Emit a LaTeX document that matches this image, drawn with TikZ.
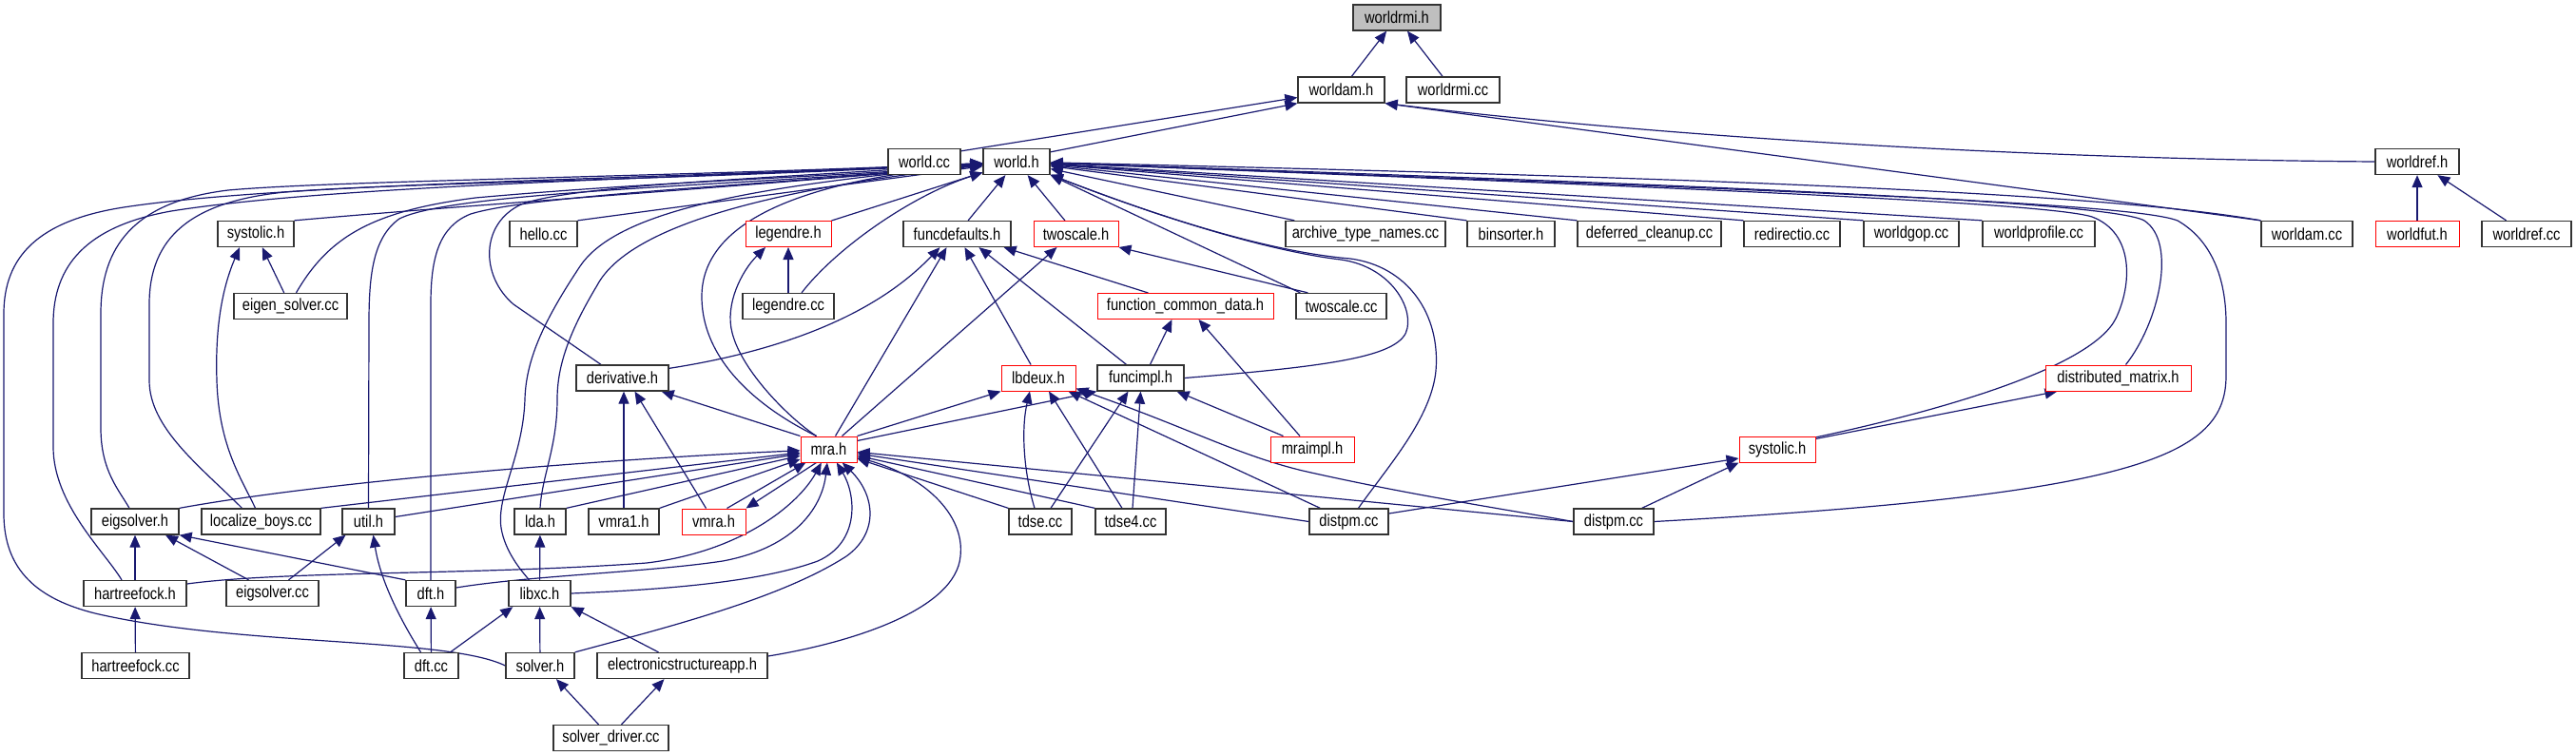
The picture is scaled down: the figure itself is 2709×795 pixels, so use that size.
\documentclass[tikz,border=0pt]{standalone}
\usepackage{fontspec}
\setmainfont{Liberation Sans}[FakeStretch=0.84]
\usetikzlibrary{arrows.meta,backgrounds}
\definecolor{eblue}{HTML}{191970}
\definecolor{gfill}{HTML}{BFBFBF}
\definecolor{bord}{HTML}{333333}
\begin{document}
\begin{tikzpicture}[x=1pt,y=-1pt,
  box/.style={draw=bord, line width=1.3pt, fill=white, minimum height=27pt, inner sep=0pt, font=\fontsize{17.5pt}{19pt}\selectfont},
  rbox/.style={box, draw=red, line width=1pt},
  bw/.style={minimum width=#1pt},
  e/.style={draw=eblue, line width=1.2pt, {Triangle[length=13pt,width=11pt]}-}]
\useasboundingbox (0,0) rectangle (2709,795);
% row 0
\node[box, fill=gfill, bw=92] (worldrmi) at (1469,18.5) {worldrmi.h};
% row 1
\node[box, bw=91] (worldamh) at (1410.5,94.5) {worldam.h};
\node[box, bw=98] (worldrmicc) at (1528,94.5) {worldrmi.cc};
% row 2
\node[box, bw=76] (worldcc) at (972,170) {world.cc};
\node[box, bw=70] (worldh) at (1069,170) {world.h};
\node[box, bw=88] (worldrefh) at (2542,170) {worldref.h};
% row 3
\node[box, bw=80] (systolich) at (269,246) {systolic.h};
\node[box, bw=71] (hellocc) at (571.5,246) {hello.cc};
\node[rbox, bw=90] (legendreh) at (829,246) {legendre.h};
\node[box, bw=113] (funcdefaults) at (1006.5,246) {funcdefaults.h};
\node[rbox, bw=89] (twoscaleh) at (1131.5,246) {twoscale.h};
\node[box, bw=168] (archive) at (1436,246) {archive\_type\_names.cc};
\node[box, bw=92] (binsorter) at (1589,246) {binsorter.h};
\node[box, bw=151] (deferred) at (1734.5,246) {deferred\_cleanup.cc};
\node[box, bw=101] (redirectio) at (1884.5,246) {redirectio.cc};
\node[box, bw=100] (worldgop) at (2010,246) {worldgop.cc};
\node[box, bw=118] (worldprofile) at (2144,246) {worldprofile.cc};
\node[box, bw=96] (worldamcc) at (2426,246) {worldam.cc};
\node[rbox, bw=88] (worldfut) at (2542,246) {worldfut.h};
\node[box, bw=94] (worldrefcc) at (2657,246) {worldref.cc};
% row 4
\node[box, bw=119] (eigensolvercc) at (305.5,322) {eigen\_solver.cc};
\node[box, bw=96] (legendrecc) at (829,322) {legendre.cc};
\node[rbox, bw=185] (fcd) at (1246.5,322) {function\_common\_data.h};
\node[box, bw=95] (twoscalecc) at (1410.5,322) {twoscale.cc};
% row 5
\node[box, bw=97] (derivative) at (654.5,397.5) {derivative.h};
\node[rbox, bw=78] (lbdeux) at (1092,397.5) {lbdeux.h};
\node[box, bw=91] (funcimpl) at (1199.5,397.5) {funcimpl.h};
\node[rbox, bw=153] (distmat) at (2227.5,397.5) {distributed\_matrix.h};
% row 6
\node[rbox, bw=59] (mra) at (871.5,472.5) {mra.h};
\node[rbox, bw=88] (mraimpl) at (1380,472.5) {mraimpl.h};
\node[rbox, bw=80] (systolicr) at (1869,472.5) {systolic.h};
% row 7
\node[box, bw=92] (eigsolverh) at (142,548.5) {eigsolver.h};
\node[box, bw=125] (localize) at (274.5,548.5) {localize\_boys.cc};
\node[box, bw=55] (utilh) at (387.5,548.5) {util.h};
\node[box, bw=54] (ldah) at (568,548.5) {lda.h};
\node[box, bw=74] (vmra1) at (656,548.5) {vmra1.h};
\node[rbox, bw=67] (vmra) at (750.5,548.5) {vmra.h};
\node[box, bw=66] (tdse) at (1094,548.5) {tdse.cc};
\node[box, bw=74] (tdse4) at (1189,548.5) {tdse4.cc};
\node[box, bw=83] (distpm1) at (1418.5,548.5) {distpm.cc};
\node[box, bw=84] (distpm2) at (1697,548.5) {distpm.cc};
% row 8
\node[box, bw=108] (hartreefockh) at (142,624) {hartreefock.h};
\node[box, bw=97] (eigsolvercc) at (286.5,624) {eigsolver.cc};
\node[box, bw=52] (dfth) at (453,624) {dft.h};
\node[box, bw=65] (libxch) at (567.5,624) {libxc.h};
% row 9
\node[box, bw=113] (hartreefockcc) at (142.5,700) {hartreefock.cc};
\node[box, bw=57] (dftcc) at (453.5,700) {dft.cc};
\node[box, bw=72] (solverh) at (568,700) {solver.h};
\node[box, bw=179] (esapp) at (717.5,700) {electronicstructureapp.h};
% row 10
\node[box, bw=121] (solverdriver) at (642.5,776) {solver\_driver.cc};

\begin{pgfonlayer}{background}
% top
\draw[e] (worldrmi) -- (worldamh);
\draw[e] (worldrmi) -- (worldrmicc);
\draw[e] ([yshift=-8pt]worldamh.west) -- ([yshift=-3pt]worldcc.north east);
\draw[e] (worldamh.south west) -- ([yshift=-4pt]worldh.north east);
\draw[e] (worldamh.south east) .. controls (1800,150) and (2200,168) .. (worldrefh.west);
\draw[e] (worldamh.south east) -- (worldamcc.north west);
\draw[e] (worldrefh) -- (worldfut);
\draw[e] (worldrefh) -- (worldrefcc);
% world.h fan right
\draw[e] (worldh) -- ([xshift=10pt]archive.north west);
\draw[e] (worldh) -- (binsorter.north west);
\draw[e] (worldh) -- (deferred.north west);
\draw[e] (worldh) -- (redirectio.north west);
\draw[e] (worldh) -- (worldgop.north west);
\draw[e] (worldh) -- (worldprofile.north west);
\draw[e] (worldh) .. controls (1700,185) and (2200,200) .. (worldamcc.north west);
\draw[e] (worldh.south east) -- ([xshift=5pt]twoscalecc.north west);
\draw[e] (worldh) -- (funcdefaults);
\draw[e] (worldh) -- (twoscaleh);
\draw[e] (worldh) -- (legendreh.north east);
\draw[e] (worldh) .. controls (960,205) and (880,260) .. ([xshift=14pt]legendrecc.north);
\draw[e] (worldh) -- (hellocc.north east);
\draw[e] (worldh) .. controls (800,195) and (500,215) .. (systolich.north east);
% world.h long left curves
\draw[e] (worldh) .. controls (700,188) and (300,192) .. (130,218) .. controls (40,232) and (4,270) .. (4,330) -- (4,540) .. controls (4,600) and (40,630) .. (100,645) .. controls (250,680) and (470,670) .. (solverh.west);
\draw[e] (worldh) .. controls (700,188) and (350,195) .. (180,222) .. controls (90,238) and (56,280) .. (56,340) -- (56,470) .. controls (56,530) and (110,580) .. ([xshift=-14pt]hartreefockh.north);
\draw[e] (worldh) .. controls (700,186) and (350,190) .. (240,200) .. controls (140,212) and (106,260) .. (106,330) -- (106,450) .. controls (106,495) and (125,515) .. ([xshift=-6pt]eigsolverh.north);
\draw[e] (worldh) .. controls (700,190) and (420,192) .. (300,202) .. controls (200,212) and (157,250) .. (157,320) -- (157,400) .. controls (157,450) and (210,490) .. ([xshift=-20pt]localize.north);
\draw[e] ([xshift=-17pt]systolich.south) .. controls (235,300) and (226,340) .. (228,400) .. controls (230,470) and (255,505) .. ([xshift=-6pt]localize.north);
\draw[e] (systolich) -- (eigensolvercc);
\draw[e] (worldh) .. controls (900,185) and (700,190) .. (500,208) .. controls (390,222) and (345,250) .. ([xshift=6pt]eigensolvercc.north);
\draw[e] (worldh) .. controls (800,195) and (480,200) .. (420,230) .. controls (392,250) and (388,290) .. (388,340) -- (utilh.north);
\draw[e] (worldh) .. controls (800,195) and (560,205) .. (495,225) .. controls (462,238) and (453,270) .. (453,320) -- (dfth.north);
\draw[e] (worldh) .. controls (800,188) and (600,195) .. (548,215) .. controls (505,235) and (505,290) .. (540,320) -- ([xshift=-22.5pt]derivative.north);
\draw[e] (worldh) .. controls (800,195) and (650,220) .. (610,280) .. controls (570,340) and (553,380) .. (552,420) .. controls (550,480) and (522,520) .. (527,555) .. controls (531,580) and (548,600) .. ([xshift=-11pt]libxch.north);
\draw[e] (worldh) .. controls (800,200) and (660,240) .. (628,300) .. controls (598,350) and (586,385) .. (586,420) .. controls (586,470) and (570,500) .. (ldah.north);
\draw[e] (worldh) .. controls (880,186) and (740,220) .. (738,310) .. controls (737,380) and (800,430) .. ([xshift=-13pt]mra.north);
\draw[e] ([xshift=-24pt]legendreh.south) .. controls (780,285) and (762,320) .. (770,350) .. controls (780,390) and (830,440) .. ([xshift=-13pt]mra.north);
\draw[e] (legendreh) -- (legendrecc);
% world.h right curves
\draw[e] (worldh) .. controls (1250,240) and (1350,266) .. (1410,273) .. controls (1460,280) and (1485,320) .. (1480,345) .. controls (1475,375) and (1400,385) .. (funcimpl.east);
\draw[e] (worldh) .. controls (1250,240) and (1350,266) .. (1420,272) .. controls (1480,280) and (1515,330) .. (1510,390) .. controls (1505,440) and (1460,490) .. ([xshift=10pt]distpm1.north);
\draw[e] (worldh) .. controls (1700,195) and (2150,212) .. (2200,228) .. controls (2245,245) and (2242,300) .. (2225,335) .. controls (2200,385) and (2050,430) .. ([xshift=-3pt,yshift=-2pt]systolicr.north east);
\draw[e] (worldh) .. controls (1800,195) and (2220,212) .. (2255,232) .. controls (2290,255) and (2270,340) .. ([xshift=8pt]distmat.north);
\draw[e] (worldh) .. controls (1800,198) and (2240,212) .. (2290,232) .. controls (2330,255) and (2341,300) .. (2341,340) -- (2341,395) .. controls (2341,480) and (2250,520) .. (distpm2.east);
% middle
\draw[e] ([xshift=-18pt]funcdefaults.south) .. controls (950,300) and (880,360) .. ([yshift=-4pt]derivative.north east);
\draw[e] ([xshift=-11pt]funcdefaults.south) -- ([xshift=7pt]mra.north);
\draw[e] (funcdefaults) -- (lbdeux);
\draw[e] ([xshift=23pt]funcdefaults.south) -- ([xshift=-15pt]funcimpl.north);
\draw[e] ([xshift=-8pt]funcdefaults.south east) -- ([xshift=-39pt]fcd.north);
\draw[e] ([xshift=-20pt]twoscaleh.south) -- ([xshift=14pt]mra.north);
\draw[e] (twoscaleh.south east) -- ([xshift=13pt]twoscalecc.north west);
\draw[e] ([xshift=-14pt]fcd.south) -- ([xshift=10pt]funcimpl.north);
\draw[e] ([xshift=14pt]fcd.south) -- ([xshift=-13pt]mraimpl.north);
\draw[e] ([xshift=-8pt]funcimpl.south east) -- ([xshift=14pt]mraimpl.north west);
\draw[e] ([xshift=-8pt]derivative.south east) -- (mra.north west);
\draw[e] ([xshift=1.5pt]derivative.south) -- (vmra1.north);
\draw[e] ([xshift=13pt]derivative.south) -- ([xshift=-8pt]vmra.north);
\draw[e] (lbdeux.south west) -- (mra.north east);
\draw[e] (funcimpl.south west) -- ([yshift=-5pt]mra.north east);
\draw[e] ([xshift=-9pt]lbdeux.south) .. controls (1074,450) and (1076,495) .. ([xshift=-6pt]tdse.north);
\draw[e] ([xshift=11pt]lbdeux.south) -- ([xshift=-9pt]tdse4.north);
\draw[e] ([xshift=-13pt]funcimpl.south) -- ([xshift=11pt]tdse.north);
\draw[e] (funcimpl.south) -- ([xshift=2pt]tdse4.north);
\draw[e] ([xshift=-8pt]lbdeux.south east) -- ([xshift=12pt]distpm1.north west);
\draw[e] ([yshift=3pt]lbdeux.south east) .. controls (1250,450) and (1300,478) .. (1370,495) .. controls (1480,520) and (1580,535) .. (distpm2.west);
% mra fan
\draw[e] (mra) -- (tdse.north west);
\draw[e] (mra) -- (tdse4.north west);
\draw[e] (mra) -- (distpm1.west);
\draw[e] (mra) -- (distpm2.west);
\draw[e] (mra) .. controls (650,482) and (350,505) .. (eigsolverh.north east);
\draw[e] (mra) -- (localize.north east);
\draw[e] (mra) -- ([yshift=5pt]utilh.east);
\draw[e] (mra) -- (ldah.north east);
\draw[e] (mra) -- (vmra1.north east);
\draw[e] (mra) -- ([xshift=14pt]vmra.north);
\draw[e] (vmra.north east) -- ([xshift=-13pt]mra.south);
\draw[e] (mra) .. controls (840,530) and (780,580) .. (680,592) .. controls (500,605) and (300,600) .. ([yshift=10pt]hartreefockh.east);
\draw[e] (mra) .. controls (865,530) and (840,575) .. (760,590) .. controls (680,602) and (560,605) .. ([yshift=6pt]dfth.east);
\draw[e] (mra) .. controls (900,520) and (905,570) .. (860,590) .. controls (800,612) and (700,620) .. (libxch.east);
\draw[e] (mra) .. controls (920,520) and (925,560) .. (890,585) .. controls (820,630) and (700,660) .. (solverh.north east);
\draw[e] (mra) .. controls (970,500) and (1015,540) .. (1010,585) .. controls (1005,640) and (900,675) .. ([yshift=10pt]esapp.east);
% bottom left
\draw[e] (eigsolverh) -- (hartreefockh);
\draw[e] ([xshift=32pt]eigsolverh.south) -- ([xshift=-25pt]eigsolvercc.north);
\draw[e] (eigsolverh.south east) -- (dfth.north west);
\draw[e] ([xshift=-24pt]utilh.south) -- ([xshift=17pt]eigsolvercc.north);
\draw[e] ([xshift=5pt]utilh.south) .. controls (400,610) and (420,650) .. ([xshift=-11pt]dftcc.north);
\draw[e] (dfth) -- (dftcc);
\draw[e] (hartreefockh) -- (hartreefockcc);
\draw[e] (ldah) -- (libxch);
\draw[e] ([xshift=5pt]libxch.south west) -- ([xshift=20pt]dftcc.north);
\draw[e] (libxch) -- (solverh);
\draw[e] (libxch.south east) -- ([xshift=-25pt]esapp.north);
\draw[e] ([xshift=17pt]solverh.south) -- ([xshift=-13pt]solverdriver.north);
\draw[e] ([xshift=-19pt]esapp.south) -- ([xshift=11pt]solverdriver.north);
% right
\draw[e] ([yshift=-9.5pt]systolicr.west) -- ([yshift=8.5pt]distpm1.east);
\draw[e] (systolicr.south west) -- ([xshift=-13pt]distpm2.north east);
\draw[e] ([xshift=13pt]distmat.south west) -- ([yshift=-3pt]systolicr.north east);
\end{pgfonlayer}
\end{tikzpicture}
\end{document}
